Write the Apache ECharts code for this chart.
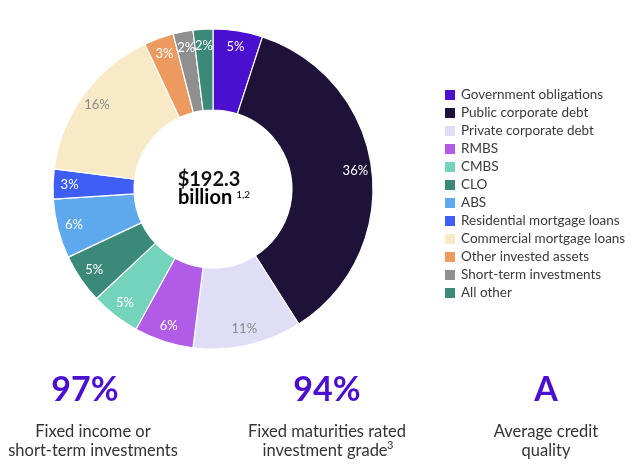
<!DOCTYPE html>
<html>
<head>
<meta charset="utf-8">
<script src="https://cdn.jsdelivr.net/npm/echarts@6/dist/echarts.min.js"></script>
<style>
html,body{margin:0;padding:0;background:#fff;}
#c{width:640px;height:470px;}
</style>
</head>
<body>
<div id="c"></div>
<script>
const categories = ['Government obligations','Public corporate debt','Private corporate debt','RMBS','CMBS','CLO','ABS','Residential mortgage loans','Commercial mortgage loans','Other invested assets','Short-term investments','All other'];
const values = [5, 36, 11, 6, 5, 5, 6, 3, 16, 3, 2, 2];
const colors = ['#4a0fcf','#1e1239','#e0ddf6','#b05ce6','#73d3bb','#3b8979','#5ea9ee','#3f5ef5','#f8e9c7','#ec9a5f','#8f8f8f','#3b8979'];
const labelColors = ['#fff','#fff','#8a8a8a','#fff','#fff','#fff','#fff','#fff','#8a8a8a','#fff','#fff','#fff'];
const totalText = '$192.3';
const stats = ['97%','94%','A'];

const FONT = 'Lato, "Open Sans", sans-serif';
const chart = echarts.init(document.getElementById('c'));

const ringData = categories.map((n,i)=>({name:n, value:values[i], itemStyle:{color:colors[i]}}));
const labelData = categories.map((n,i)=>({name:n, value:values[i], label:{color:labelColors[i]}}));

chart.setOption({
  animation:false,
  color: colors,
  legend:{
    orient:'vertical', left:438, top:83,
    itemWidth:12, itemHeight:12, itemGap:4, icon:'rect',
    textStyle:{fontFamily:FONT, fontSize:13.5, color:'#3a3a3a'},
    data: categories
  },
  series:[
    {
      type:'pie', center:[213,189], radius:[79,160], startAngle:90, clockwise:true,
      label:{show:false}, labelLine:{show:false},
      itemStyle:{borderColor:'#fff', borderWidth:1.2},
      emphasis:{disabled:true},
      data: ringData
    },
    {
      type:'pie', center:[213,189], radius:[121,160], startAngle:90, clockwise:true,
      silent:true,
      itemStyle:{color:'rgba(0,0,0,0)', borderWidth:0},
      label:{show:true, position:'inside', formatter:'{c}%', fontFamily:FONT, fontSize:13},
      labelLine:{show:false},
      emphasis:{disabled:true},
      data: labelData
    }
  ],
  graphic:[
    {type:'text', x:209, y:180, style:{text:totalText, align:'center', verticalAlign:'middle', font:'bold 20px '+FONT, fill:'#111'}},
    {type:'text', x:214, y:198, style:{text:'{b|billion}{s|1,2}', align:'center', verticalAlign:'middle',
      rich:{b:{fontFamily:FONT, fontWeight:'bold', fontSize:20, color:'#111'},
            s:{fontFamily:FONT, fontWeight:'normal', fontSize:10, color:'#111', padding:[0,0,6,4]}}}},
    {type:'text', x:85, y:390, style:{text:stats[0], align:'center', verticalAlign:'middle', font:'bold 34px '+FONT, fill:'#4a0fcf'}},
    {type:'text', x:327, y:390, style:{text:stats[1], align:'center', verticalAlign:'middle', font:'bold 34px '+FONT, fill:'#4a0fcf'}},
    {type:'text', x:546, y:390, style:{text:stats[2], align:'center', verticalAlign:'middle', font:'bold 34px '+FONT, fill:'#4a0fcf'}},
    {type:'text', x:93, y:432, style:{text:'Fixed income or', align:'center', verticalAlign:'middle', font:'16.5px '+FONT, fill:'#333'}},
    {type:'text', x:93, y:451, style:{text:'short-term investments', align:'center', verticalAlign:'middle', font:'16.5px '+FONT, fill:'#333'}},
    {type:'text', x:327, y:432, style:{text:'Fixed maturities rated', align:'center', verticalAlign:'middle', font:'16.5px '+FONT, fill:'#333'}},
    {type:'text', x:325, y:451, style:{text:'investment grade', align:'center', verticalAlign:'middle', font:'16.5px '+FONT, fill:'#333'}},
    {type:'text', x:387, y:445, style:{text:'3', align:'left', verticalAlign:'middle', font:'11px '+FONT, fill:'#333'}},
    {type:'text', x:546, y:432, style:{text:'Average credit', align:'center', verticalAlign:'middle', font:'16.5px '+FONT, fill:'#333'}},
    {type:'text', x:546, y:451, style:{text:'quality', align:'center', verticalAlign:'middle', font:'16.5px '+FONT, fill:'#333'}}
  ]
});
</script>
</body>
</html>
